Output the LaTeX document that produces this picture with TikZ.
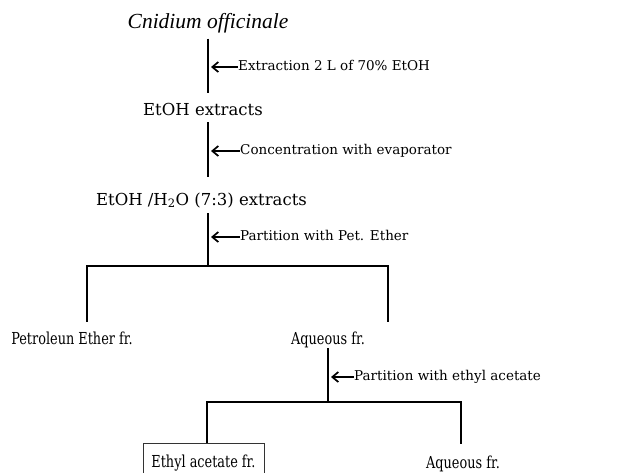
\documentclass[tikz,border=0pt]{standalone}
\usepackage{fontspec}
\setmainfont{DejaVu Serif}
\newfontfamily\narrowserif[FakeStretch=0.78]{DejaVu Serif}
\newfontfamily\latinitalic{Liberation Serif}
\usetikzlibrary{arrows.meta}

\tikzset{
	stage/.style={font=\fontsize{16.5}{18}\selectfont, inner sep=0pt, anchor=base, text height=12.5pt, text depth=4pt},
	fraction/.style={font=\narrowserif\fontsize{16.5}{18}\selectfont, inner sep=0pt, anchor=base, text height=12.5pt, text depth=4pt},
	treat/.style={font=\fontsize{13.5}{15}\selectfont, inner sep=0pt, anchor=west, text height=10pt, text depth=3pt},
	flow/.style={line width=2.6pt},
	treatarrow/.style={line width=1.7pt, {Straight Barb[length=6pt,width=10pt]}-},
	fracbox/.style={draw, line width=0.8pt, draw=black!80, inner sep=0pt, anchor=north, minimum width=121pt, minimum height=40pt, text height=12.5pt, text depth=4pt, font=\narrowserif\fontsize{16.5}{18}\selectfont}
}

\begin{document}
\begin{tikzpicture}[x=1pt, y=-1pt]
			%%%%% START %%%%%
			\useasboundingbox (0, 0) rectangle (621, 472);
			
			\coordinate (col) at (208, 0);
			\coordinate (left1) at (87, 266);
			\coordinate (right1) at (388, 266);
			\coordinate (left2) at (207, 402);
			\coordinate (right2) at (461, 402);
			
			\node[stage, font=\latinitalic\itshape\fontsize{21.5}{23}\selectfont] (cnidium) at (208, 28.5) {Cnidium officinale};
			\node[stage] (etoh) at (203, 115) {EtOH extracts};
			\node[stage] (etohwater) at (201.5, 205) {EtOH /H\textsubscript{2}O (7:3) extracts};
			
			\node[fraction] (pet) at (72, 344) {Petroleun Ether fr.};
			\node[fraction] (aq) at (328, 344) {Aqueous fr.};
			\node[fracbox] (ethyl) at (203.5, 443) {Ethyl acetate fr.};
			\node[fraction] (aqtwo) at (463, 468) {Aqueous fr.};
			
			\node[treat] (extract) at (238, 67) {Extraction 2 L of 70\% EtOH};
			\node[treat] (concentrate) at (240, 151) {Concentration with evaporator};
			\node[treat] (petpart) at (240, 237) {Partition with Pet. Ether};
			\node[treat] (ethylpart) at (354, 377) {Partition with ethyl acetate};
			
			% main column
			\draw[flow, shorten <=6pt, shorten >=9.5pt] (cnidium.south -| col) -- (etoh.north -| col);
			\draw[flow, shorten <=3pt, shorten >=15.5pt] (etoh.south -| col) -- (etohwater.north -| col);
			\draw[flow, shorten <=4pt] (etohwater.south -| col) -- (col |- left1);
			
			% first partition
			\draw[flow, shorten <=9.5pt, shorten >=9.5pt] (pet.north -| left1) -- (left1) -- (right1) -- (aq.north -| right1);
			\draw[flow] (aq.south) -- (aq.south |- left2);
			
			% second partition
			\draw[flow, shorten >=11.5pt] (ethyl.north -| left2) -- (left2) -- (right2) -- (aqtwo.north -| right2);
			
			% treatments
			\draw[treatarrow, shorten <=3pt] (extract.west -| col) -- (extract.west);
			\draw[treatarrow, shorten <=3pt] (concentrate.west -| col) -- (concentrate.west);
			\draw[treatarrow, shorten <=3pt] (petpart.west -| col) -- (petpart.west);
			\draw[treatarrow, shorten <=3pt] (ethylpart.west -| aq.south) -- (ethylpart.west);
			
			%%%%% END %%%%%
\end{tikzpicture}
\end{document}
